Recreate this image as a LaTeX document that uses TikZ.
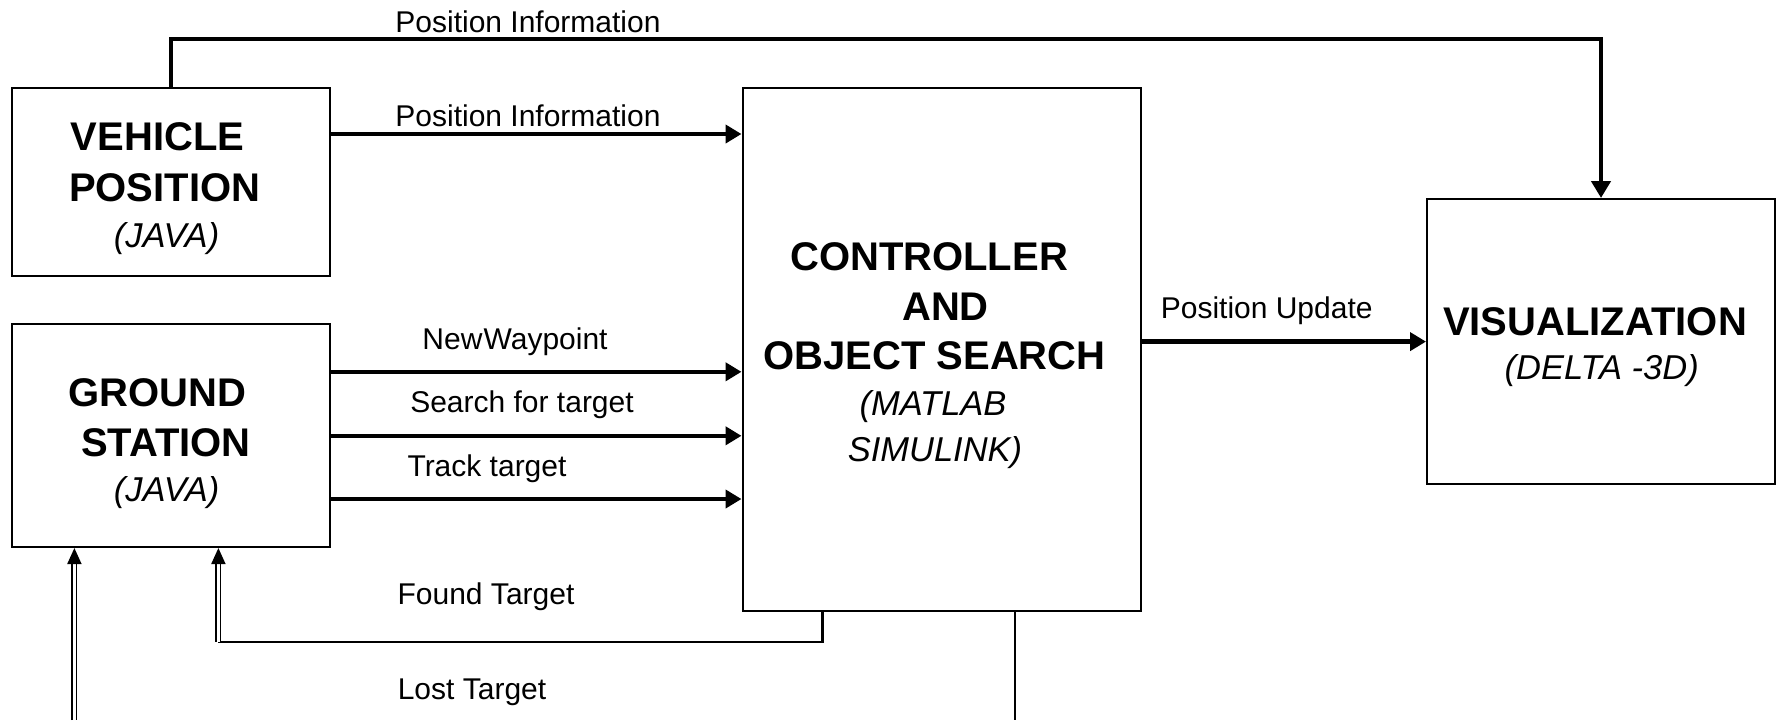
\documentclass[tikz,border=0pt]{standalone}
\usepackage{fontspec}
\setmainfont{Liberation Sans}
\usetikzlibrary{arrows.meta}

\tikzset{
  block/.style={draw, line width=1pt, rectangle, inner sep=0pt},
  head/.style={font=\bfseries\fontsize{20pt}{24pt}\selectfont, anchor=base, inner sep=0pt},
  tool/.style={font=\itshape\fontsize{17.25pt}{20pt}\selectfont, anchor=base, inner sep=0pt},
  lbl/.style={font=\fontsize{15pt}{18pt}\selectfont, anchor=base, inner sep=0pt},
  flow/.style={line width=2.3pt, -{Triangle[length=8pt,width=9pt]}},
  topflow/.style={line width=2.3pt, -{Triangle[length=8.5pt,width=9.5pt]}},
  thin link/.style={line width=1.1pt},
  back/.style={double, line width=0.85pt, double distance=1.3pt, -{Triangle[length=8pt,width=7pt]}},
}

\begin{document}
\begin{tikzpicture}[x=0.5pt,y=-0.5pt]
\useasboundingbox (0,0) rectangle (1776,720);

% blocks
\node[block, minimum width=159pt, minimum height=94pt] (veh) at (171,182) {};
\node[block, minimum width=159pt, minimum height=111.5pt] (gnd) at (171,435.5) {};
\node[block, minimum width=199pt, minimum height=261.5pt] (ctrl) at (941.5,349.2) {};
\node[block, minimum width=174pt, minimum height=142.6pt] (vis) at (1601,341.6) {};

% block titles
\node[head] (vehA) at (157.5,150) {VEHICLE};
\node[head] (vehB) at (164.7,201.7) {POSITION};
\node[tool] (vehC) at (166.5,247) {(JAVA)};

\node[head] (gndA) at (157.7,406) {GROUND};
\node[head] (gndB) at (166,456.7) {STATION};
\node[tool] (gndC) at (166.7,501.7) {(JAVA)};

\node[head] (ctrlA) at (929,270) {CONTROLLER};
\node[head] (ctrlB) at (945.5,320.7) {AND};
\node[head] (ctrlC) at (934.5,369) {OBJECT SEARCH};
\node[tool] (ctrlD) at (933,415) {(MATLAB};
\node[tool] (ctrlE) at (935,461.7) {SIMULINK)};

\node[head] (visA) at (1595,335) {VISUALIZATION};
\node[tool] (visB) at (1601.7,379) {(DELTA -3D)};

% connection points
\coordinate (pinfo) at ([yshift=-23.5pt]veh.north east);
\coordinate (wp) at ([yshift=-24.4pt]gnd.north east);
\coordinate (srch) at ([yshift=-56.4pt]gnd.north east);
\coordinate (trk) at ([yshift=-88pt]gnd.north east);
\coordinate (foundOut) at ([xshift=40.5pt]ctrl.south west);
\coordinate (foundIn) at ([xshift=103.7pt]gnd.south west);
\coordinate (foundCorner) at (foundIn |- 0,641.7);
\coordinate (lostOut) at ([xshift=136.7pt]ctrl.south west);
\coordinate (lostIn) at ([xshift=31.7pt]gnd.south west);
\coordinate (lostEndR) at (lostOut |- 0,720);
\coordinate (lostEndL) at (lostIn |- 0,720);

% connectors
\draw[topflow] (veh.north) -- ++(0,-48) -| (vis.north);
\draw[flow] (pinfo) -- (pinfo -| ctrl.west);
\draw[flow] (wp) -- (wp -| ctrl.west);
\draw[flow] (srch) -- (srch -| ctrl.west);
\draw[flow] (trk) -- (trk -| ctrl.west);
\draw[flow] (ctrl.east |- vis.west) -- (vis.west);

\draw[thin link] (foundOut) |- (foundCorner);
\draw[back] (foundCorner) -- (foundIn);
\draw[thin link] (lostOut) -- (lostEndR);
\draw[back] (lostEndL) -- (lostIn);

% connector labels
\node[lbl] (l1) at (528,32.3) {Position Information};
\node[lbl] (l2) at (528,126.7) {Position Information};
\node[lbl] (l3) at (515,349.3) {New\hspace{0.04em}Waypoint};
\node[lbl] (l4) at (522,412.7) {Search for target};
\node[lbl] (l5) at (487,476.7) {Track target};
\node[lbl] (l6) at (1266.7,318.3) {Position Update};
\node[lbl] (l7) at (486,604) {Found Target};
\node[lbl] (l8) at (472,699) {Lost Target};
\end{tikzpicture}
\end{document}
